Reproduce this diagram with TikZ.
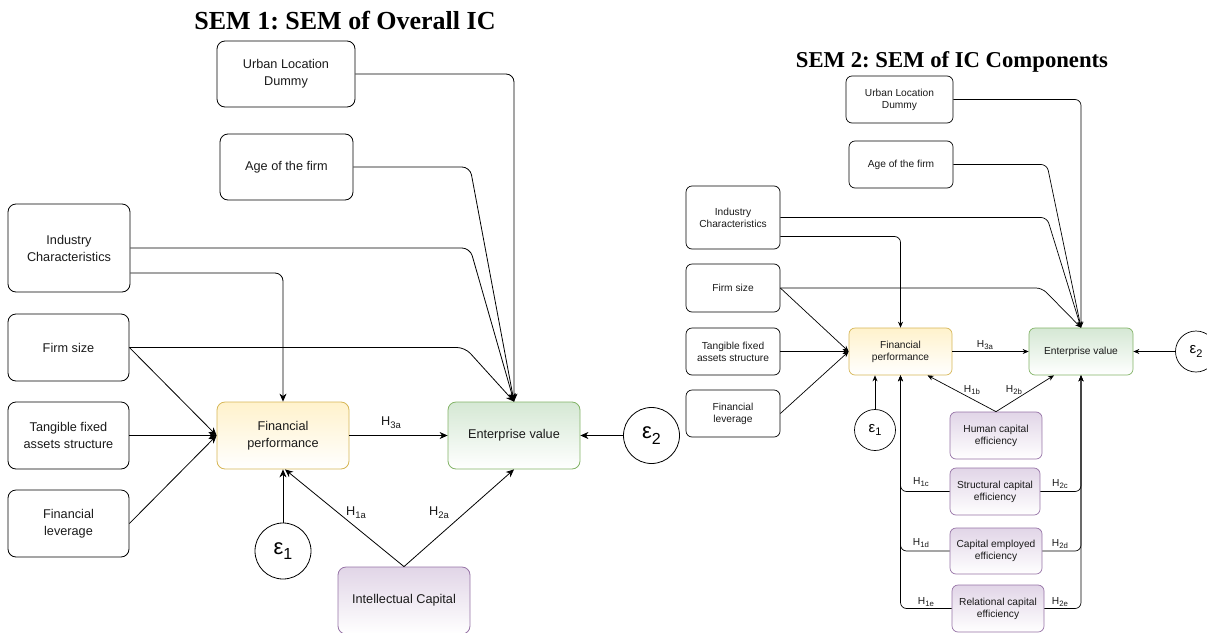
\documentclass[tikz,border=0pt]{standalone}
\usepackage{fontspec}
\setmainfont{Liberation Sans}
\newfontfamily\titlefont{Liberation Serif}
\usetikzlibrary{arrows.meta}
\definecolor{yelF}{HTML}{FFF2CC}\definecolor{yelD}{HTML}{D6B656}
\definecolor{grnF}{HTML}{D5E8D4}\definecolor{grnD}{HTML}{82B366}
\definecolor{purF}{HTML}{E1D5E7}\definecolor{purD}{HTML}{9673A6}
\definecolor{txt}{HTML}{1A1A1A}
\frenchspacing
\newcommand{\HL}[1]{H\raisebox{-0.4ex}{\fontsize{9.5}{9.5}\selectfont #1}}
\newcommand{\HR}[1]{H\raisebox{-0.4ex}{\fontsize{7.8}{7.8}\selectfont #1}}
\newcommand{\epsL}[1]{ε\raisebox{-0.45ex}{\fontsize{16}{16}\selectfont #1}}
\newcommand{\epsR}[1]{ε\raisebox{-0.45ex}{\fontsize{11}{11}\selectfont #1}}
\begin{document}
\begin{tikzpicture}[x=1pt,y=-1pt,
  lbox/.style={draw, rounded corners=8pt, line width=0.8pt, align=center, inner sep=0pt,
    font=\fontsize{12.7}{17}\selectfont, text=txt},
  rbox/.style={draw, rounded corners=6pt, line width=0.7pt, align=center, inner sep=0pt,
    font=\fontsize{10.2}{12}\selectfont, text=txt},
  yel/.style={draw=yelD, top color=yelF, bottom color=white},
  grn/.style={draw=grnD, top color=grnF, bottom color=white},
  pur/.style={draw=purD, top color=purF, bottom color=white},
  arrL/.style={-{Stealth[length=8pt,width=7pt,inset=2.5pt]}, line width=0.8pt, rounded corners=8pt},
  arrR/.style={-{Stealth[length=6pt,width=5pt,inset=2pt]}, line width=0.7pt, rounded corners=6pt},
  epsLn/.style={draw, circle, line width=0.8pt, minimum size=56pt, inner sep=0pt, font=\fontsize{22}{22}\selectfont},
  epsRn/.style={draw, circle, line width=0.7pt, minimum size=41pt, inner sep=0pt, font=\fontsize{15}{15}\selectfont},
  labL/.style={inner sep=0pt, font=\fontsize{12.7}{14}\selectfont, text=txt},
  labR/.style={inner sep=0pt, font=\fontsize{10.2}{11}\selectfont, text=txt}
]
\useasboundingbox (0,0) rectangle (1207,632);

% ---------------- SEM 1 ----------------
\node[anchor=base, font=\titlefont\bfseries\fontsize{26}{30}\selectfont] (t1) at (345,29) {SEM 1: SEM of Overall IC};

\node[lbox, minimum width=138pt, minimum height=66pt] (Urb) at (286,74) {Urban Location\\Dummy};
\node[lbox, minimum width=133pt, minimum height=66pt] (Age) at (286.5,167) {Age of the firm};
\node[lbox, minimum width=122pt, minimum height=88pt] (Ind) at (69,248) {Industry\\Characteristics};
\node[lbox, minimum width=121pt, minimum height=67pt] (Firm) at (68.5,347.5) {Firm size};
\node[lbox, minimum width=121pt, minimum height=67pt] (Tang) at (68.5,435.5) {Tangible fixed\\assets structure};
\node[lbox, minimum width=121pt, minimum height=67pt] (Lev) at (68.5,523.5) {Financial\\leverage};
\node[lbox, yel, minimum width=132pt, minimum height=67pt] (FP) at (283,435.5) {Financial\\performance};
\node[lbox, grn, minimum width=132pt, minimum height=67pt] (EV) at (514,435.5) {Enterprise value};
\node[lbox, pur, minimum width=132pt, minimum height=67pt] (IC) at (404,600.5) {Intellectual Capital};
\node[epsLn] (e1) at (283,551) {\epsL{1}};
\node[epsLn] (e2) at (651.5,435.5) {\epsL{2}};

\draw[arrL] (Urb.east) -| (EV.north);
\draw[arrL] (Age.east) -- (Age.east -| 470,0) -- (EV.north);
\draw[arrL] (Ind.east) -- (Ind.east -| 470,0) -- (EV.north);
\draw[arrL] (Firm.east) -- (Firm.east -| 465,0) -- (EV.north);
\draw[arrL] ([yshift=-25pt]Ind.east) -| (FP.north);
\draw[arrL] (Firm.east) -- (FP.west);
\draw[arrL] (Tang.east) -- (FP.west);
\draw[arrL] (Lev.east) -- (FP.west);
\draw[arrL] (FP.east) -- (EV.west);
\draw[arrL] (e2.west) -- (EV.east);
\draw[arrL] (e1.north) -- (FP.south);
\draw[arrL] (IC.north) -- ([xshift=2pt]FP.south);
\draw[arrL] (IC.north) -- (EV.south);

\node[labL] (h3a) at (391,423) {\HL{3a}};
\node[labL] (h1a) at (356,513) {\HL{1a}};
\node[labL] (h2a) at (439,513) {\HL{2a}};

% ---------------- SEM 2 ----------------
\node[anchor=base, font=\titlefont\bfseries\fontsize{22.7}{26}\selectfont] (t2) at (952,67) {SEM 2: SEM of IC Components};

\node[rbox, minimum width=107pt, minimum height=47pt] (UrbR) at (899.5,99.5) {Urban Location\\Dummy};
\node[rbox, minimum width=104pt, minimum height=47pt] (AgeR) at (901,164.5) {Age of the firm};
\node[rbox, minimum width=94pt, minimum height=63pt] (IndR) at (733,217.5) {Industry\\Characteristics};
\node[rbox, minimum width=94pt, minimum height=48pt] (FirmR) at (733,288) {Firm size};
\node[rbox, minimum width=94pt, minimum height=47pt] (TangR) at (733,351.5) {Tangible fixed\\assets structure};
\node[rbox, minimum width=94pt, minimum height=47pt] (LevR) at (733,413.5) {Financial\\leverage};
\node[rbox, yel, minimum width=103pt, minimum height=47pt] (FPR) at (900.5,351.5) {Financial\\performance};
\node[rbox, grn, minimum width=104pt, minimum height=47pt] (EVR) at (1081,351.5) {Enterprise value};
\node[rbox, pur, minimum width=92pt, minimum height=47pt] (Hum) at (996,435.5) {Human capital\\efficiency};
\node[rbox, pur, minimum width=90pt, minimum height=47pt] (Str) at (995,491.5) {Structural capital\\efficiency};
\node[rbox, pur, minimum width=92pt, minimum height=46pt] (Cap) at (996,551) {Capital employed\\efficiency};
\node[rbox, pur, minimum width=92pt, minimum height=47pt] (Rel) at (998,608.5) {Relational capital\\efficiency};
\node[epsRn] (e1R) at (875,430) {\epsR{1}};
\node[epsRn] (e2R) at (1196,351.5) {\epsR{2}};

\draw[arrR] (UrbR.east) -| (EVR.north);
\draw[arrR] (AgeR.east) -- (AgeR.east -| 1047,0) -- (EVR.north);
\draw[arrR] (IndR.east) -- (IndR.east -| 1047,0) -- (EVR.north);
\draw[arrR] (FirmR.east) -- (FirmR.east -| 1042,0) -- (EVR.north);
\draw[arrR] ([yshift=-19pt]IndR.east) -| (FPR.north);
\draw[arrR] (FirmR.east) -- (FPR.west);
\draw[arrR] (TangR.east) -- (FPR.west);
\draw[arrR] (LevR.east) -- (FPR.west);
\draw[arrR] (FPR.east) -- (EVR.west);
\draw[arrR] (e2R.west) -- (EVR.east);
\draw[arrR] (e1R.north) -- (e1R.north |- FPR.south);
\draw[arrR] (Hum.north) -- ([xshift=27pt]FPR.south);
\draw[arrR] (Hum.north) -- ([xshift=-27pt]EVR.south);
\draw[arrR] (Str.west) -| (FPR.south);
\draw[arrR] (Cap.west) -| (FPR.south);
\draw[arrR] (Rel.west) -| (FPR.south);
\draw[arrR] (Str.east) -| (EVR.south);
\draw[arrR] (Cap.east) -| (EVR.south);
\draw[arrR] (Rel.east) -| (EVR.south);

\node[labR] (h3aR) at (985,345) {\HR{3a}};
\node[labR] (h1b) at (972,390) {\HR{1b}};
\node[labR] (h2b) at (1014,390) {\HR{2b}};
\node[labR] (h1c) at (921,482) {\HR{1c}};
\node[labR] (h2c) at (1060,484) {\HR{2c}};
\node[labR] (h1d) at (921,543) {\HR{1d}};
\node[labR] (h2d) at (1060,544) {\HR{2d}};
\node[labR] (h1e) at (926,602) {\HR{1e}};
\node[labR] (h2e) at (1060,602) {\HR{2e}};
\end{tikzpicture}
\end{document}
